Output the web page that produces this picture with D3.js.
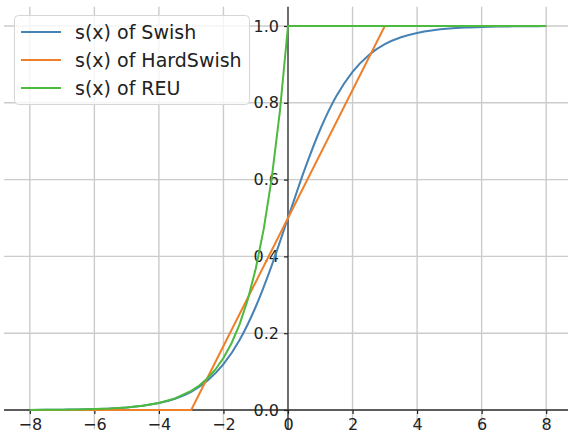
<!DOCTYPE html>
<html><head><meta charset="utf-8">
<script src="https://cdn.jsdelivr.net/npm/d3@7"></script>
<style>
html,body{margin:0;padding:0;background:#fff;}
svg{display:block;font-family:"DejaVu Sans",sans-serif;}
</style></head>
<body><svg id="c" width="568" height="440"></svg>
<script>
// x samples
const xSwish = [-8,-7.5,-7,-6.5,-6,-5.5,-5,-4.5,-4,-3.5,-3,-2.5,-2,-1.5,-1,-0.5,0,0.5,1,1.5,2,2.5,3,3.5,4,4.5,5,5.5,6,6.5,7,7.5,8];
const ySwish = [0.0003,0.0006,0.0009,0.0015,0.0025,0.0041,0.0067,0.0110,0.0180,0.0293,0.0474,0.0759,0.1192,0.1824,0.2689,0.3775,0.5,0.6225,0.7311,0.8176,0.8808,0.9241,0.9526,0.9707,0.9820,0.9890,0.9933,0.9959,0.9975,0.9985,0.9991,0.9994,0.9997];
const xHard = [-8,-3,3,8];
const yHard = [0,0,1,1];
const xReu = [-8,-7.5,-7,-6.5,-6,-5.5,-5,-4.5,-4,-3.5,-3,-2.75,-2.5,-2.25,-2,-1.75,-1.5,-1.25,-1,-0.75,-0.5,-0.25,0,8];
const yReu = [0.0003,0.0006,0.0009,0.0015,0.0025,0.0041,0.0067,0.0111,0.0183,0.0302,0.0498,0.0639,0.0821,0.1054,0.1353,0.1738,0.2231,0.2865,0.3679,0.4724,0.6065,0.7788,1.0,1.0];
const xTicks = [-8,-6,-4,-2,0,2,4,6,8];
const yTicks = [0.0,0.2,0.4,0.6,0.8,1.0];
const seriesNames = ["s(x) of Swish","s(x) of HardSwish","s(x) of REU"];
const colors = ["#4682b4","#ef7f2a","#4cba3c"];

const svg = d3.select("#c");
const x = d3.scaleLinear().domain([-8.8,8.8]).range([4,572]);
const y = d3.scaleLinear().domain([-0.05,1.05]).range([429.2,6.8]);

// grid
const g = svg.append("g");
g.selectAll(".gx").data(xTicks).join("line")
  .attr("x1",d=>x(d)).attr("x2",d=>x(d)).attr("y1",y(-0.05)).attr("y2",y(1.05))
  .attr("stroke","#cbcbcb").attr("stroke-width",1.4);
g.selectAll(".gy").data(yTicks).join("line")
  .attr("x1",x(-8.8)).attr("x2",x(8.8)).attr("y1",d=>y(d)).attr("y2",d=>y(d))
  .attr("stroke","#cbcbcb").attr("stroke-width",1.4);

// axes at zero
const xAxis = d3.axisBottom(x).tickValues(xTicks).tickSize(4).tickPadding(5)
  .tickFormat(d=> d<0 ? "\u2212"+Math.abs(d) : String(d));
const yAxis = d3.axisLeft(y).tickValues(yTicks).tickSize(4).tickPadding(5)
  .tickFormat(d3.format(".1f"));

function style(sel){
  sel.select(".domain").remove();
  sel.selectAll(".tick line").attr("stroke","#222").attr("stroke-width",1.2);
  sel.selectAll(".tick text").attr("fill","#222").attr("font-size","16px")
    .attr("font-family","DejaVu Sans, sans-serif");
}

// lines
const data = [
  xSwish.map((v,i)=>[v,ySwish[i]]),
  xHard.map((v,i)=>[v,yHard[i]]),
  xReu.map((v,i)=>[v,yReu[i]])
];
const curves = [d3.curveMonotoneX, d3.curveLinear, d3.curveLinear];

// spines
svg.append("line").attr("x1",x(-8.8)).attr("x2",x(8.8)).attr("y1",y(0)).attr("y2",y(0))
  .attr("stroke","#333").attr("stroke-width",1.3);
svg.append("line").attr("x1",x(0)).attr("x2",x(0)).attr("y1",y(-0.05)).attr("y2",y(1.05))
  .attr("stroke","#333").attr("stroke-width",1.3);

const gx = svg.append("g").attr("transform",`translate(0,${y(0)})`).call(xAxis);
style(gx);
const gy = svg.append("g").attr("transform",`translate(${x(0)},0)`).call(yAxis);
style(gy);

data.forEach((d,i)=>{
  svg.append("path").datum(d)
    .attr("d", d3.line().x(p=>x(p[0])).y(p=>y(p[1])).curve(curves[i]))
    .attr("fill","none").attr("stroke",colors[i]).attr("stroke-width",2)
    .attr("stroke-linejoin","round");
});

// legend
const lg = svg.append("g");
lg.append("rect").attr("x",14.5).attr("y",15.5).attr("width",235).attr("height",89)
  .attr("rx",4).attr("fill","#fff").attr("fill-opacity",0.8)
  .attr("stroke","#d6d6d6").attr("stroke-width",1);
seriesNames.forEach((n,i)=>{
  const yy = 32 + i*28;
  lg.append("line").attr("x1",21).attr("x2",61).attr("y1",yy).attr("y2",yy)
    .attr("stroke",colors[i]).attr("stroke-width",2);
  lg.append("text").attr("x",75).attr("y",yy).attr("dy","0.36em")
    .attr("font-size","19px").attr("fill","#222").text(n);
});
</script></body></html>
